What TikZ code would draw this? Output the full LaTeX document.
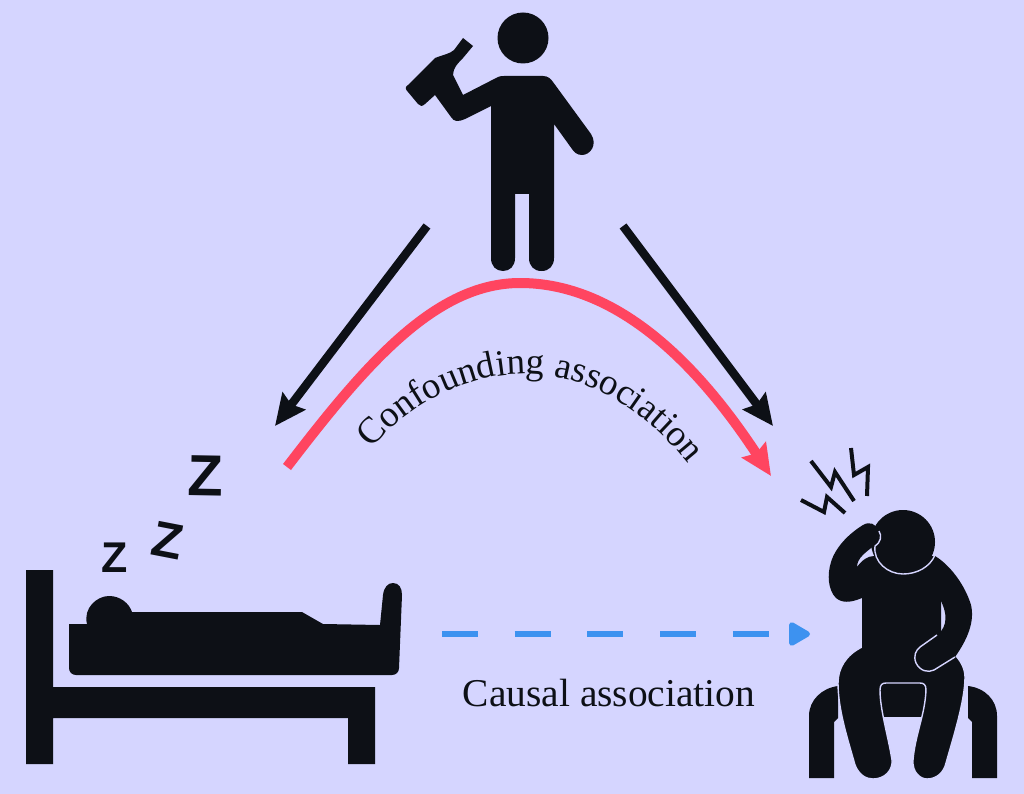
\documentclass[tikz,border=0pt]{standalone}
\usepackage{fontspec}
\setmainfont{Liberation Serif}
\setsansfont{Liberation Sans}
\usetikzlibrary{arrows.meta,decorations.text}
\definecolor{lilac}{HTML}{D5D5FF}
\definecolor{ink}{HTML}{0D1016}
\definecolor{rose}{HTML}{FF4560}
\definecolor{sky}{HTML}{3D92F0}
\tikzset{
  icon/.style={fill=ink, draw=none},
  rim/.style={draw=lilac, line width=1.4pt},
  bolt/.style={draw=ink, line width=4pt, miter limit=10},
  zee/.style={text=ink, inner sep=0pt},
  arr/.style={-{Stealth[length=31pt, width=28pt, inset=4pt]}, draw=ink, line width=8.5pt},
  redarr/.style={-{Stealth[length=31pt, width=28pt, inset=4pt]}, draw=rose, line width=10pt},
  bluearr/.style={-{Triangle[length=24pt, width=26pt, round]}, draw=sky, line width=5.5pt, dash pattern=on 36pt off 36.7pt},
  lbl/.style={text=ink, inner sep=0pt},
}
\begin{document}
\begin{tikzpicture}[x=1pt, y=-1pt]
  \fill[lilac] (0,0) rectangle (1024,794);
  % drinker
  \node[icon, circle, minimum size=51pt, inner sep=0pt] (drinkhead) at (523,38) {};
  \fill[icon] (498,77) .. controls (500,76) and (502,76) .. (504,76) -- (543,76)
    .. controls (548,76) and (551,79) .. (553,82) -- (591,134)
    .. controls (598,145) and (590,155) .. (582,155) .. controls (577,155) and (574,152) .. (572,149)
    -- (554,124) -- (554,258) .. controls (554,266) and (549,271) .. (541.5,271)
    .. controls (534,271) and (529,266) .. (529,258) -- (529,194) -- (515,194) -- (515,258)
    .. controls (515,266) and (510,271) .. (503,271) .. controls (496,271) and (491,266) .. (491,258)
    -- (491,106) -- (465,119) .. controls (458,122) and (454,122) .. (451,117)
    -- (435,95) -- (425,104) .. controls (422,107) and (420,106) .. (418,104)
    -- (408,92) .. controls (405,89) and (405,87) .. (408,85) -- (435,58)
    .. controls (442,55) and (450,54) .. (454,50) -- (463,38) -- (473,46) -- (463,58)
    .. controls (458,63) and (453,68) .. (453,75) -- (463,95) -- cycle;
  % sleeper
  \fill[icon] (26,570) -- (53,570) -- (53,687) -- (375,687) -- (375,764) -- (348,764) -- (348,718)
    -- (53,718) -- (53,764) -- (26,764) -- cycle;
  \fill[icon] (69,624) -- (87,624) .. controls (83,608) and (97,596) .. (109,596)
    .. controls (120,596) and (129,603) .. (132,612) -- (302,612) -- (323,624) -- (380,625)
    -- (383,595) .. controls (384,587) and (388,583) .. (393,583) .. controls (399,583) and (402,588) .. (402,595)
    -- (399,668) .. controls (399,672) and (396,675) .. (392,675) -- (76,675)
    .. controls (72,675) and (69,672) .. (69,668) -- cycle;
  \node[zee, font=\sffamily\bfseries\fontsize{43}{43}\selectfont] (zsmall) at (115,558) {Z};
  \node[zee, font=\sffamily\bfseries\fontsize{50}{50}\selectfont, rotate=-11] (zmid) at (168,541) {Z};
  \node[zee, font=\sffamily\bfseries\fontsize{58}{58}\selectfont, rotate=-1] (zbig) at (206,476) {Z};
  % sufferer
  \fill[icon] (809,778) -- (809,716) .. controls (809,700) and (822,688) .. (838,686) -- (838,718) -- (834,722) -- (834,778) -- cycle;
  \fill[icon] (997,778) -- (997,716) .. controls (997,700) and (985,688) .. (968,686) -- (968,718) -- (972,722) -- (972,778) -- cycle;
  \fill[icon] (880,683) rectangle (925,717);
  \path[icon, rim] (862,647) .. controls (846,655) and (838,668) .. (838,683) .. controls (838,710) and (848,740) .. (855,765)
    .. controls (859,775) and (866,779) .. (873,779) .. controls (885,779) and (893,770) .. (892,760)
    .. controls (888,735) and (880,710) .. (880,690) .. controls (880,685) and (882,683) .. (886,683)
    -- (920,683) .. controls (924,683) and (926,685) .. (926,690) .. controls (925,715) and (915,735) .. (913,760)
    .. controls (912,772) and (920,779) .. (927,779) .. controls (937,779) and (944,772) .. (946,763)
    .. controls (954,735) and (965,700) .. (965,677) .. controls (965,668) and (960,660) .. (955,655) -- (900,630) -- cycle;
  \fill[icon] (862,647) -- (862,598) .. controls (850,603) and (842,603) .. (836,598)
    .. controls (828,590) and (827,575) .. (831,562) .. controls (836,546) and (850,533) .. (863,525)
    .. controls (870,521) and (875,524) .. (879,530) .. controls (881,536) and (879,542) .. (875,545)
    .. controls (866,552) and (857,558) .. (857,567) .. controls (862,560) and (868,556) .. (874,556)
    -- (935,556) -- (941,600) -- (941,660) -- (862,660) -- cycle;
  \fill[icon] (925,556) -- (935,556) .. controls (950,565) and (965,585) .. (971,605)
    .. controls (975,622) and (967,640) .. (955,657) -- (934,670)
    .. controls (928,673) and (920,671) .. (916,663) .. controls (913,656) and (916,650) .. (920,647)
    -- (936,636) .. controls (944,630) and (950,620) .. (941,601) -- (925,600) -- cycle;
  \draw[rim] (937,635) -- (920,647) .. controls (916,650) and (913,656) .. (916,663)
    .. controls (920,671) and (928,673) .. (934,670) -- (955,657);
  \node[icon, circle, minimum size=64pt, inner sep=0pt] (sufferhead) at (903,542) {};
  \draw[rim] (879,531) .. controls (882,536) and (881,542) .. (875,546)
    .. controls (873,562) and (888,574) .. (903,574) .. controls (917,574) and (930,567) .. (935,555);
  \draw[bolt] (801,500) -- (824,512) -- (827,497) -- (845,513);
  \draw[bolt] (811,461) -- (831,487) -- (835,472) -- (854,501);
  \draw[bolt] (851,448) -- (854,475) -- (868,467) -- (867,496);
  % connectors
  \coordinate (drinkleft) at (427,226);
  \coordinate (sleeptip) at (275,426);
  \coordinate (drinkright) at (623,226);
  \coordinate (suffertip) at (773,426);
  \coordinate (sleepend) at (287,467);
  \coordinate (peak) at (520,283);
  \coordinate (redtip) at (771,476);
  \coordinate (sleepfoot) at (442,634);
  \coordinate (sufferfront) at (810,634);
  \draw[arr] (drinkleft) -- (sleeptip);
  \draw[arr] (drinkright) -- (suffertip);
  \draw[redarr] (sleepend) .. controls (365,365) and (435,283) .. (peak) .. controls (615,283) and (695,360) .. (redtip);
  \draw[bluearr] (sleepfoot) -- (sufferfront);
  \path[decorate, decoration={text along path, text align=center,
    text={|\fontsize{37}{37}\selectfont\color{ink}|Confounding association}}]
    (372,449) .. controls (412,401) and (470,374) .. (525,374) .. controls (590,374) and (648,413) .. (688,464);
  \node[lbl, font=\fontsize{39.4}{39.4}\selectfont] (causal) at (609,693) {Causal association};
\end{tikzpicture}
\end{document}
